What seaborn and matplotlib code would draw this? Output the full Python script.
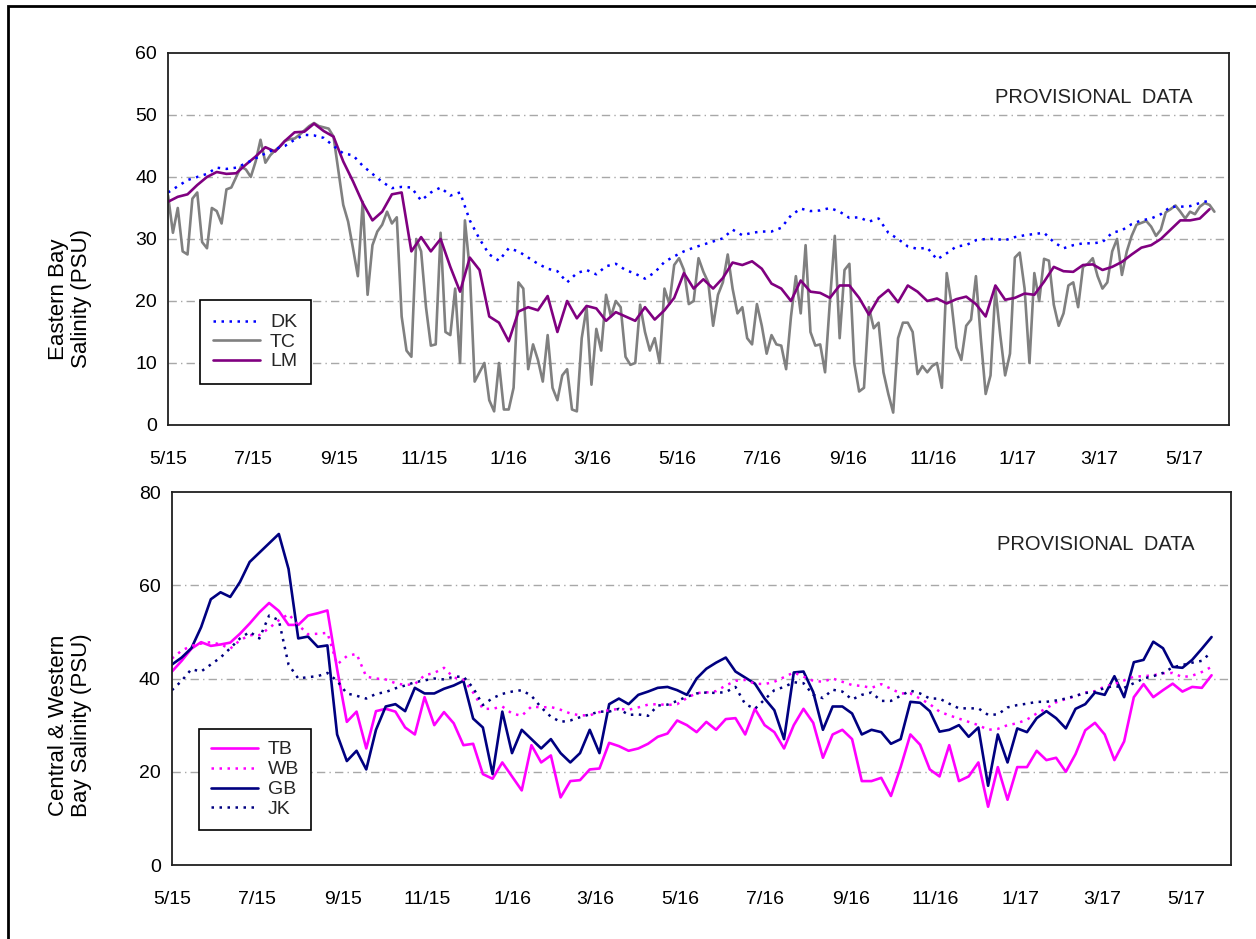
import pandas as pd
import seaborn as sns
import matplotlib.pyplot as plt
import matplotlib.dates as mdates
from matplotlib.ticker import FuncFormatter
from matplotlib.patches import Rectangle

# Eastern Bay salinity (PSU), weekly readings from 5/1/15 (TC every 3.5 days)
dk = [37.5, 38.5, 39.5, 40, 40.5, 41.5, 41.3, 41.5, 42.2, 43, 43.8, 44.5, 45, 46, 46.8, 46.7, 46.3, 45, 43.8, 43.5,
      41.8, 40.5, 39.2, 38.2, 38.4, 38.3, 36.2, 37.5, 38.3, 37, 37.5, 33, 30, 27.5, 26.5, 28.5, 28,
      27, 26, 25.2, 24.8, 23, 24.5, 25, 24.3, 25.6, 26, 25, 24.4, 23.6, 24.6, 26.3, 27.2, 28, 28.6, 29.1, 29.6,
      30.1, 31.5, 30.6, 31, 31.2, 31.2, 31.8, 33.8, 34.9, 34.5, 34.6, 35, 34.4, 33.4, 33.5, 32.8,
      33.3, 31, 30, 28.8, 28.4, 28.6, 26.7, 27.7, 28.8, 29, 29.8, 30, 30, 29.8, 30.3, 30.6, 30.8, 31, 29.5, 28.5,
      29, 29.3, 29.3, 29.5, 31, 31.4, 32.4, 33, 33.3, 34, 35.2, 35.2, 35.3, 35.8, 36.2]
lm = [36, 36.8, 37.2, 38.7, 40, 40.8, 40.5, 40.6, 42, 43.3, 44.8, 44.1, 45.8, 47.2, 47.3, 48.6, 47.4, 46.5, 42.5, 39.3,
      35.8, 33, 34.4, 37.2, 37.5, 28, 30.3, 28, 30, 25.5, 21.5, 27, 25, 17.5, 16.5, 13.5, 18.3,
      19, 18.5, 20.8, 15, 20, 17.2, 19.2, 18.8, 16.8, 18.2, 17.5, 16.8, 19, 17, 18.5, 20.5, 24.5, 22, 23.5, 22,
      23.7, 26.2, 25.8, 26.4, 25.2, 22.8, 22, 20, 23.3, 21.5, 21.3, 20.5, 22.5, 22.5, 20.5, 17.8,
      20.5, 21.8, 19.8, 22.5, 21.5, 20, 20.4, 19.6, 20.3, 20.7, 19.5, 17.5, 22.5, 20.2, 20.5, 21.2, 21, 23.1, 25.5,
      24.8, 24.7, 25.8, 25.9, 25, 25.5, 26.3, 27.5, 28.6, 29, 30, 31.5, 33, 33, 33.3, 34.8]
tc = [37, 31, 35, 28, 27.5, 36.5, 37.5, 29.5, 28.5, 35, 34.5, 32.5, 38, 38.3, 40, 41.7, 41.2, 40, 42.5, 46,
      42.3, 43.5, 44.3, 44.9, 45.8, 46.1, 46.2, 46.8, 47.5, 48.2, 48.7, 48.2, 48, 47.8, 46.5, 41, 35.5, 32.8, 28.5, 24,
      36, 21, 29, 31.2, 32.3, 34.4, 32.5, 33.5, 17.5, 12, 11, 30, 28, 19, 12.8, 13, 31, 15, 14.5, 22,
      10, 33, 25, 7, 8.5, 10, 4, 2.2, 10, 2.5, 2.5, 6, 23,
      22, 9, 13, 10.5, 7, 14.5, 6, 4, 8, 9, 2.5, 2.2, 14, 19, 6.5, 15.5, 12, 21, 17.5, 20,
      19, 11, 9.7, 10, 19.4, 15, 12, 14, 10, 22, 19.5, 25.8, 26.9, 25, 19.5, 20, 26.9, 24.7, 23, 16,
      21, 23, 27.5, 22, 18, 19, 14, 13, 19.5, 16, 11.5, 14.5, 13, 12.8, 9, 17.5, 24, 18, 29, 15,
      12.8, 13, 8.5, 20, 30.5, 14, 25, 26, 10, 5.4, 6, 19,
      15.6, 16.5, 8.5, 5, 2, 14, 16.5, 16.5, 15, 8.2, 9.5, 8.5, 9.5, 10, 6, 24.5, 19.5, 12.5, 10.5, 16,
      17, 24, 14, 5, 8, 22, 14.5, 8, 11.5, 27, 27.8, 22, 10, 24.5, 20, 26.8, 26.5, 19.4, 16, 18,
      22.5, 23, 19, 25.5, 26, 26.9, 24, 22, 23, 28, 30, 24.2, 28, 30.5, 32.3, 32.6, 32.9, 32, 30.5, 31.5,
      34.3, 34.8, 35.4, 34.4, 33.3, 34.4, 34, 35.2, 35.8, 35.5, 34.4]

# Central & Western Bay salinity (PSU), weekly from 5/1/15
tb = [41.5, 43.8, 46.4, 47.8, 47, 47.3, 47.7, 49.6, 51.8, 54.2, 56.2, 54.5, 51.5, 51.5, 53.5, 54, 54.6, 42, 30.7, 32.9,
      25, 33, 33.5, 32.9, 29.5, 28, 36, 30, 32.8, 30.4, 25.7, 26, 19.5, 18.5, 22, 19, 16,
      25.7, 22, 23.5, 14.5, 18, 18.2, 20.5, 20.7, 26.2, 25.5, 24.5, 25, 26, 27.5, 28.2, 31, 30, 28.5, 30.7, 29,
      31.3, 31.5, 28, 33.5, 30, 28.5, 25, 30, 33.5, 30.5, 23, 28, 29, 27, 18, 18,
      18.7, 14.8, 21, 28, 25.8, 20.5, 19, 25.7, 18, 19, 22, 12.5, 21, 14, 21, 21, 24.5, 22.5, 23, 20,
      23.8, 28.9, 30.5, 28, 22.5, 26.5, 36, 38.8, 36, 37.5, 38.9, 37.2, 38.2, 38, 40.7]
wb = [44.3, 46, 47, 47.5, 47.8, 47.3, 46.4, 48.2, 49.3, 49.3, 50.8, 52.5, 53.8, 51.5, 49.5, 49.6, 49.8, 43, 44.8, 45.3,
      40.4, 40, 39.8, 39, 38.6, 38.8, 40.7, 41.2, 42.3, 40.2, 39.8, 37, 33.5, 33.5, 34, 32.5, 32,
      34, 33.8, 33.9, 33.3, 32.5, 32.1, 32.1, 32.8, 33.2, 33.5, 33.3, 33.8, 34.4, 34.5, 34.3, 34.5, 35.8, 36.9, 37,
      37.3, 38.5, 39.5, 39.7, 38.9, 38.8, 39.3, 40.3, 41.3, 40.4, 39.5, 39.3, 40, 39.3, 38.6, 38.4, 38,
      38.8, 37.8, 36.8, 36.8, 35.7, 34.5, 32.9, 32.1, 31.4, 30.7, 30, 29, 29.2, 30, 30.4, 31.2, 32.5, 33.6, 34.9,
      35.6, 36.2, 37, 37.3, 38.3, 38.8, 39.6, 40.4, 40.5, 40.7, 41.1, 41.2, 40.3, 40.6, 41.4, 42.5]
gb = [43, 44.5, 46.5, 51, 57, 58.5, 57.5, 60.7, 65, 67, 69, 71, 63.5, 48.6, 49, 46.8, 47.1, 28, 22.3, 24.5,
      20.5, 29, 34, 34.5, 33, 38, 36.8, 36.8, 37.8, 38.5, 39.5, 31.4, 29.5, 19.5, 32.9, 24, 29,
      27, 25, 27, 24, 22, 24, 29, 24, 34.5, 35.7, 34.5, 36.5, 37.2, 38, 38.2, 37.5, 36.5, 40, 42.1, 43.4,
      44.5, 41.5, 40.2, 38.9, 35.7, 33.2, 27, 41.3, 41.5, 37.1, 29, 34, 34, 32.5, 28, 29,
      28.5, 26, 27, 35, 34.8, 33, 28.6, 29, 30, 27.5, 29.5, 17, 28, 22, 29.3, 28.5, 31.5, 33, 31.5, 29.3,
      33.5, 34.5, 37, 36.5, 40.5, 36, 43.5, 44, 47.9, 46.5, 42.5, 42.3, 44, 46.4, 48.9]
jk = [37.5, 39.5, 42, 41.5, 43, 44.5, 46.5, 48.6, 50, 48.6, 53.5, 52.5, 43, 40, 40.3, 40.5, 41.2, 39.5, 36.8, 36.3,
      35.7, 36.7, 37.1, 37.9, 38.5, 39.2, 39.6, 40, 39.8, 40.4, 40.4, 38, 34.3, 35.8, 36.7, 37.2, 37.5,
      36.3, 33.8, 31.8, 30.7, 31, 31.7, 32.3, 32.9, 32.9, 33.5, 32.2, 32.3, 32, 34.2, 34.4, 35.2, 36.1, 36.8, 37,
      36.9, 37.1, 38.2, 34.5, 33.5, 35.5, 37.5, 38.2, 39.2, 39, 36.5, 35.8, 37.6, 37.2, 35.5, 36.5, 37,
      35.2, 35.2, 36.3, 37.4, 36.8, 35.7, 35.7, 34.6, 33.6, 33.6, 33.6, 32.2, 32.3, 33.8, 34.3, 34.6, 35, 35, 35.3,
      35.7, 36.3, 36.9, 37.1, 38, 38.4, 38, 39, 40, 40.5, 41.2, 42.4, 42.9, 43.4, 43.8, 45.7]

start = '2015-05-01'
x_end = '2017-06-02'


def series(vals, freq='7D'):
    return pd.Series(vals, index=pd.date_range(start, periods=len(vals), freq=freq))


sns.set_theme(style='white')
plt.rcParams['font.family'] = ['Liberation Sans', 'DejaVu Sans']

fig = plt.figure(figsize=(12.56, 9.39), dpi=100)
fig.patches.append(Rectangle((0.0064, -0.5), 1.5, 1.4936, transform=fig.transFigure,
                             fill=False, edgecolor='black', linewidth=2))

ax1 = fig.add_axes([0.1338, 0.5474, 0.8447, 0.3962])
ax2 = fig.add_axes([0.1369, 0.0788, 0.8432, 0.3972])

dotted = (0, (1, 2.2))

# top panel
s = series(tc, '84h')
sns.lineplot(x=s.index, y=s.values, ax=ax1, color='#808080', linewidth=1.9, label='TC')
s = series(lm)
sns.lineplot(x=s.index, y=s.values, ax=ax1, color='#800080', linewidth=1.9, label='LM')
s = series(dk)
sns.lineplot(x=s.index, y=s.values, ax=ax1, color='#0000FF', linewidth=1.8, linestyle=dotted, label='DK')

# bottom panel
s = series(tb)
sns.lineplot(x=s.index, y=s.values, ax=ax2, color='#FF00FF', linewidth=1.9, label='TB')
s = series(gb)
sns.lineplot(x=s.index, y=s.values, ax=ax2, color='#000080', linewidth=1.9, label='GB')
s = series(wb)
sns.lineplot(x=s.index, y=s.values, ax=ax2, color='#FF00FF', linewidth=1.8, linestyle=dotted, label='WB')
s = series(jk)
sns.lineplot(x=s.index, y=s.values, ax=ax2, color='#000080', linewidth=1.8, linestyle=dotted, label='JK')

date_fmt = FuncFormatter(lambda v, p: '{}/{}'.format(mdates.num2date(v).month, mdates.num2date(v).strftime('%y')))

for ax, top, step in [(ax1, 60, 10), (ax2, 80, 20)]:
    ax.set_xlim(pd.Timestamp(start), pd.Timestamp(x_end))
    ax.set_ylim(0, top)
    ax.set_yticks(range(0, top + 1, step))
    for v in range(step, top, step):
        ax.axhline(v, color='#a8a8a8', linewidth=1.0, linestyle=(0, (6, 3, 1, 3)), zorder=0)
    ax.xaxis.set_major_locator(mdates.MonthLocator(bymonth=[1, 3, 5, 7, 9, 11]))
    ax.xaxis.set_major_formatter(date_fmt)
    ax.tick_params(axis='both', direction='out', length=5, width=1, color='black', labelsize=14, labelcolor='black')
    ax.tick_params(axis='x', pad=14)
    ax.tick_params(axis='y', pad=3)
    for sp in ax.spines.values():
        sp.set_color('#202020')
        sp.set_linewidth(1.3)
    ax.set_xlabel('')
    ax.text(0.966, 0.88 if ax is ax1 else 0.858, 'PROVISIONAL  DATA', transform=ax.transAxes,
            ha='right', va='center', fontsize=14.5, color='#222222')

ax1.set_ylabel('Eastern Bay\nSalinity (PSU)', fontsize=16, color='black', linespacing=1.1)
ax1.yaxis.set_label_coords(-0.072, 0.339)
ax2.set_ylabel('Central & Western\nBay Salinity (PSU)', fontsize=16, color='black', linespacing=1.1)
ax2.yaxis.set_label_coords(-0.0755, 0.375)

h, l = ax1.get_legend_handles_labels()
order = [l.index(n) for n in ['DK', 'TC', 'LM']]
leg = ax1.legend([h[i] for i in order], [l[i] for i in order], loc='lower left', bbox_to_anchor=(0.030, 0.110),
                 borderaxespad=0, fancybox=False, edgecolor='black', framealpha=1, fontsize=14,
                 handlelength=2.4, handletextpad=0.5, borderpad=0.7, labelspacing=0.1)
leg.get_frame().set_linewidth(1.2)

h, l = ax2.get_legend_handles_labels()
order = [l.index(n) for n in ['TB', 'WB', 'GB', 'JK']]
leg = ax2.legend([h[i] for i in order], [l[i] for i in order], loc='lower left', bbox_to_anchor=(0.026, 0.094),
                 borderaxespad=0, fancybox=False, edgecolor='black', framealpha=1, fontsize=14,
                 handlelength=2.4, handletextpad=0.5, borderpad=0.6, labelspacing=0.12)
leg.get_frame().set_linewidth(1.2)

fig.savefig('out.png', dpi=100)
